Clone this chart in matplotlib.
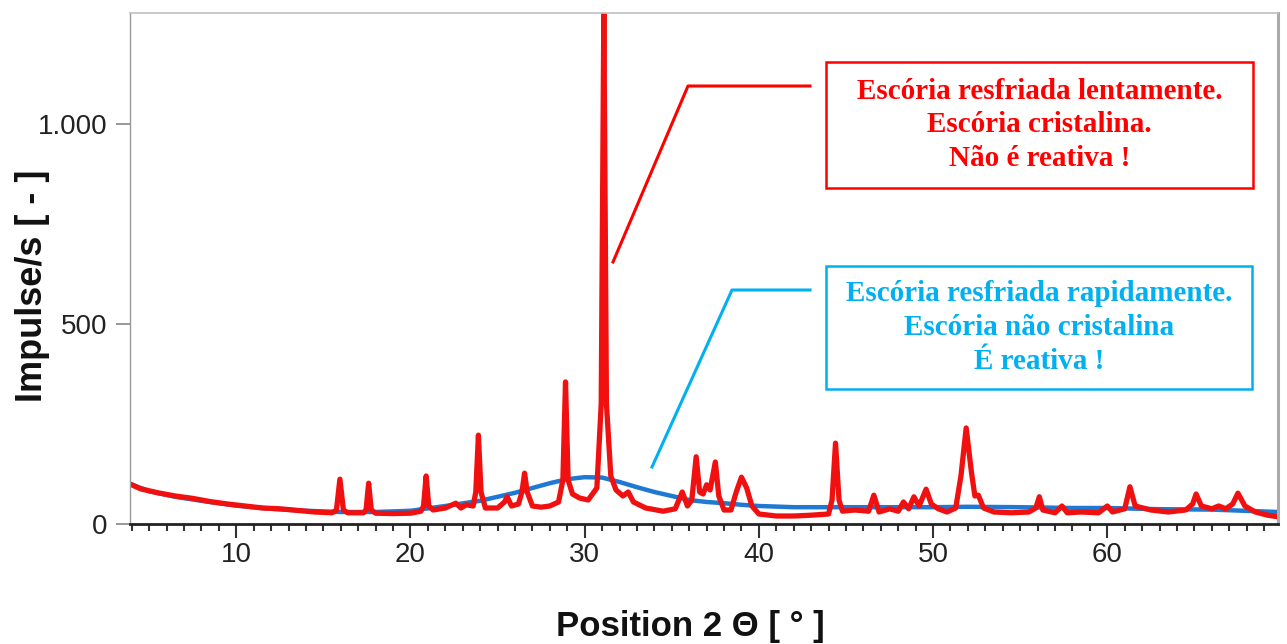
import matplotlib
matplotlib.use("Agg")
import matplotlib.pyplot as plt
from matplotlib.patches import Rectangle
from matplotlib.lines import Line2D
from matplotlib.ticker import MultipleLocator

# slowly cooled slag (crystalline)
red_x = [3.9, 4.5, 5.5, 6.5, 7.5, 8.5, 9.5, 10.5, 11.5, 12.5, 13.5, 14.5, 15.5,
         15.75, 15.95, 16.15, 16.4, 17.3, 17.45, 17.6, 17.75, 18.0, 19.0, 20.0,
         20.6, 20.75, 20.9, 21.05, 21.3, 22.0, 22.6, 22.9, 23.2, 23.6, 23.75,
         23.9, 24.05, 24.3, 25.0, 25.4, 25.55, 25.8, 26.2, 26.4, 26.55, 26.7,
         27.0, 27.5, 28.0, 28.5, 28.75, 28.9, 29.05, 29.3, 29.7, 30.2, 30.7,
         30.95, 31.1, 31.25, 31.5, 31.8, 32.2, 32.5, 32.8, 33.5, 34.5, 35.2,
         35.6, 35.9, 36.15, 36.4, 36.6, 36.8, 37.0, 37.2, 37.5, 37.7, 38.0,
         38.4, 38.7, 39.0, 39.3, 39.6, 40.0, 41.0, 42.0, 43.0, 44.0, 44.2,
         44.4, 44.6, 44.8, 45.5, 46.3, 46.6, 46.9, 47.5, 48.0, 48.3, 48.6,
         48.9, 49.2, 49.6, 49.9, 50.3, 50.8, 51.3, 51.6, 51.9, 52.2, 52.4,
         52.6, 52.9, 53.5, 54.5, 55.5, 55.9, 56.1, 56.3, 57.0, 57.4, 57.7,
         58.5, 59.5, 60.0, 60.3, 61.0, 61.3, 61.6, 62.5, 63.5, 64.5, 64.9,
         65.1, 65.4, 66.0, 66.4, 66.8, 67.2, 67.5, 67.9, 68.5, 69.2, 69.8]
red_y = [100, 88, 78, 70, 64, 56, 50, 45, 40, 38, 34, 30, 28,
         35, 112, 35, 28, 28, 35, 102, 35, 27, 26, 27,
         32, 45, 120, 45, 35, 40, 52, 40, 48, 45, 80,
         222, 80, 40, 40, 55, 68, 45, 50, 80, 127, 80,
         45, 42, 45, 55, 110, 355, 110, 75, 65, 60, 90,
         300, 1280, 300, 120, 85, 70, 80, 55, 40, 32, 38,
         80, 45, 60, 168, 80, 75, 98, 85, 155, 70, 35,
         35, 80, 117, 90, 45, 25, 20, 20, 22, 25, 60,
         202, 60, 32, 35, 32, 72, 30, 38, 32, 55, 38,
         68, 45, 87, 50, 38, 30, 40, 120, 240, 130, 70,
         72, 40, 30, 28, 30, 40, 68, 35, 28, 45, 28,
         30, 28, 45, 30, 38, 93, 45, 35, 30, 35, 50,
         75, 45, 38, 45, 38, 50, 77, 45, 30, 22, 18]

# rapidly cooled slag (amorphous hump)
blue_x = [3.9, 5, 6.5, 8, 10, 12, 14, 16, 18, 20, 22, 24, 25, 26, 27, 28, 29,
          30, 31, 32, 33, 34, 35, 36, 37, 38, 39, 40, 42, 45, 48, 50, 52, 55,
          58, 60, 63, 66, 69.8]
blue_y = [100, 82, 68, 58, 46, 38, 33, 30, 30, 33, 45, 58, 68, 78, 90, 102, 112,
          117, 116, 105, 92, 80, 70, 60, 55, 52, 48, 45, 42, 42, 42, 42, 43, 42,
          40, 40, 37, 36, 30]

yticks = [0, 500, 1000]
ytick_labels = ["0", "500", "1.000"]
xticks = [10, 20, 30, 40, 50, 60]

red_note = "Escória resfriada lentamente.\nEscória cristalina.\nNão é reativa !"
blue_note = "Escória resfriada rapidamente.\nEscória não cristalina\nÉ reativa !"

W, H = 1287, 644
fig = plt.figure(figsize=(W / 100, H / 100), dpi=100)
ax = fig.add_axes([130 / W, 1 - 524 / H, 1148 / W, 511 / H])

ax.plot(blue_x, blue_y, color="#1f78d2", lw=3.2, solid_joinstyle="round")
ax.plot(red_x, red_y, color="#f01010", lw=3.8, solid_joinstyle="round")

ax.set_xlim(3.9, 69.8)
ax.set_ylim(0, 1277)
ax.set_xticks(xticks)
ax.xaxis.set_minor_locator(MultipleLocator(1))
ax.set_yticks(yticks)
ax.set_yticklabels(ytick_labels)

for lab in ax.get_xticklabels() + ax.get_yticklabels():
    lab.set_fontfamily("Liberation Sans")
    lab.set_fontsize(20)
    lab.set_color("#222222")

ax.tick_params(axis="x", which="major", direction="out", length=10, width=1.5,
               color="#333333", pad=3)
ax.tick_params(axis="x", which="minor", direction="out", length=5, width=1.5,
               color="#333333")
ax.tick_params(axis="y", which="major", direction="out", length=10, width=1.2,
               color="#888888", pad=6)

ax.spines["bottom"].set_color("#222222")
ax.spines["bottom"].set_linewidth(2)
ax.spines["left"].set_color("#999999")
ax.spines["left"].set_linewidth(1)
ax.spines["top"].set_color("#c0c0c0")
ax.spines["top"].set_linewidth(1.2)
ax.spines["right"].set_color("#aaaaaa")
ax.spines["right"].set_linewidth(2.2)

ax.set_ylabel("Impulse/s [ - ]", fontfamily="Liberation Sans", fontsize=26,
              fontweight="bold", color="#111111", va="center")
ax.yaxis.set_label_coords(-0.085, 0.466)
ax.set_xlabel("Position 2 Θ [ ° ]", fontfamily="Liberation Sans", fontsize=25,
              fontweight="bold", color="#111111", va="center")
ax.xaxis.set_label_coords(0.488, -0.2)


def fx(px):
    return px / W


def fy(py):
    return 1 - py / H


# leader lines
fig.add_artist(Line2D([fx(613), fx(688), fx(810)], [fy(262), fy(86), fy(86)],
                      color="#ff0000", lw=2.2, transform=fig.transFigure))
fig.add_artist(Line2D([fx(652), fx(732), fx(810)], [fy(467), fy(290), fy(290)],
                      color="#00b0f0", lw=2.2, transform=fig.transFigure))

# note boxes
for (x0, y0, x1, y1), col, txt in [((826, 62, 1253, 188), "#ff0000", red_note),
                                   ((826, 266, 1252, 389), "#00b0f0", blue_note)]:
    fig.add_artist(Rectangle((fx(x0), fy(y1)), fx(x1) - fx(x0), fy(y0) - fy(y1),
                             fill=False, edgecolor=col, lw=1.8,
                             transform=fig.transFigure))
    fig.text(fx((x0 + x1) / 2), fy((y0 + y1) / 2), txt, color=col,
             fontfamily="Liberation Serif", fontweight="bold", fontsize=21,
             ha="center", va="center", multialignment="center", linespacing=1.32)

fig.savefig("out.png", dpi=100)
